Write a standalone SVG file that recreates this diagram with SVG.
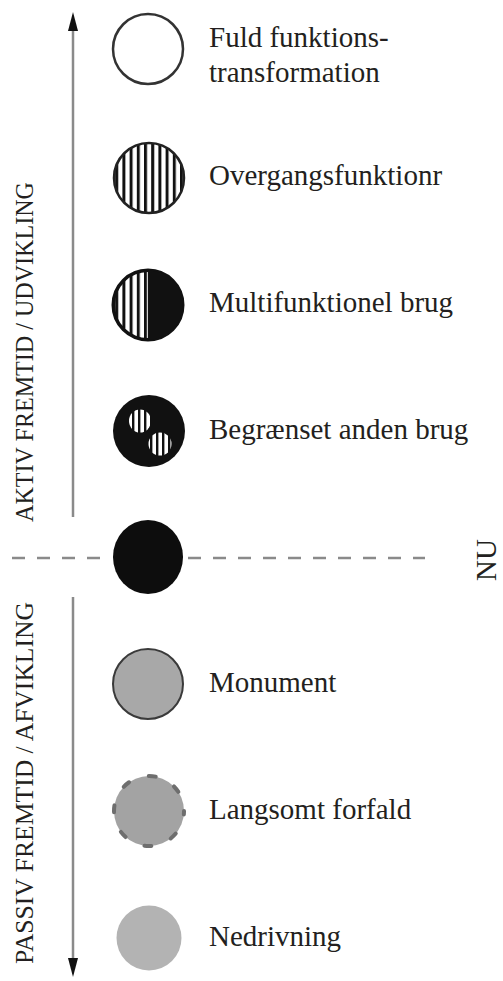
<svg xmlns="http://www.w3.org/2000/svg" width="503" height="981" viewBox="0 0 503 981">
<style>
.lbl{font-family:"Liberation Serif","Times New Roman",serif;font-size:29px;fill:#231f20}
.side{font-family:"Liberation Serif","Times New Roman",serif;font-size:25px;fill:#231f20}
.axis{stroke:#8a8a8a;stroke-width:2.5;fill:none}
.dash{stroke:#8a8a8a;stroke-width:2.5;stroke-dasharray:13 12;fill:none}
</style>
<defs>
<pattern id="stripes" patternUnits="userSpaceOnUse" x="0" y="0" width="7.2" height="10">
<rect width="7.2" height="10" fill="#fff"/>
<rect x="0" width="3" height="10" fill="#111"/>
</pattern>
<pattern id="stripesSmall" patternUnits="userSpaceOnUse" x="0" y="0" width="6" height="10">
<rect width="6" height="10" fill="#fff"/>
<rect x="0" width="2.4" height="10" fill="#111"/>
</pattern>
<clipPath id="leftHalf"><rect x="100" y="260" width="48" height="100"/></clipPath>
</defs>

<g id="connectors">
<line class="axis" x1="73" y1="517" x2="73" y2="20"/>
<path d="M73,12 L68,31 L78,31 Z" fill="#111"/>
<line class="axis" x1="73" y1="597" x2="73" y2="968"/>
<path d="M73,977 L68,958 L78,958 Z" fill="#111"/>
<line class="dash" x1="12" y1="558" x2="102" y2="558"/>
<line class="dash" x1="188" y1="558" x2="425" y2="558"/>
</g>

<g id="axis-labels">
<text class="side" transform="translate(33,352) rotate(-90)" text-anchor="middle" textLength="340" lengthAdjust="spacingAndGlyphs">AKTIV FREMTID / UDVIKLING</text>
<text class="side" transform="translate(33,783) rotate(-90)" text-anchor="middle" textLength="362" lengthAdjust="spacingAndGlyphs">PASSIV FREMTID / AFVIKLING</text>
<text class="lbl" transform="translate(496,560) rotate(-90)" text-anchor="middle">NU</text>
</g>

<g id="node-fuld">
<circle cx="148" cy="49" r="35" fill="#fff" stroke="#333" stroke-width="2.5"/>
<text class="lbl" x="209" y="47">Fuld funktions-</text>
<text class="lbl" x="209" y="82">transformation</text>
</g>

<g id="node-overgang">
<circle cx="149" cy="178" r="35" fill="url(#stripes)" stroke="#222" stroke-width="2.5"/>
<text class="lbl" x="209" y="185">Overgangsfunktionr</text>
</g>

<g id="node-multi">
<circle cx="148" cy="305" r="35.5" fill="#111"/>
<circle cx="148" cy="305" r="33" fill="url(#stripes)" clip-path="url(#leftHalf)"/>
<circle cx="148" cy="305" r="35.5" fill="none" stroke="#111" stroke-width="2"/>
<text class="lbl" x="209" y="312">Multifunktionel brug</text>
</g>

<g id="node-begraenset">
<circle cx="149" cy="431" r="36" fill="#111"/>
<ellipse cx="140" cy="421" rx="11" ry="11.5" fill="url(#stripesSmall)"/>
<ellipse cx="160" cy="444" rx="11.5" ry="11.5" fill="url(#stripesSmall)"/>
<text class="lbl" x="209" y="439">Begrænset anden brug</text>
</g>

<g id="node-nu">
<ellipse cx="148" cy="557" rx="35" ry="37" fill="#0d0d0d"/>
</g>

<g id="node-monument">
<circle cx="148" cy="684" r="35" fill="#a8a8a8" stroke="#3a3a3a" stroke-width="2"/>
<text class="lbl" x="209" y="692">Monument</text>
</g>

<g id="node-forfald">
<circle cx="149" cy="811" r="35" fill="#a3a3a3"/>
<circle cx="149" cy="811" r="35" fill="none" stroke="#6e6e6e" stroke-width="4" stroke-dasharray="7 20.99" stroke-dashoffset="3.5" stroke-linecap="round"/>
<text class="lbl" x="209" y="819">Langsomt forfald</text>
</g>

<g id="node-nedrivning">
<circle cx="149" cy="938" r="32.5" fill="#b3b3b3"/>
<text class="lbl" x="209" y="946">Nedrivning</text>
</g>
</svg>
